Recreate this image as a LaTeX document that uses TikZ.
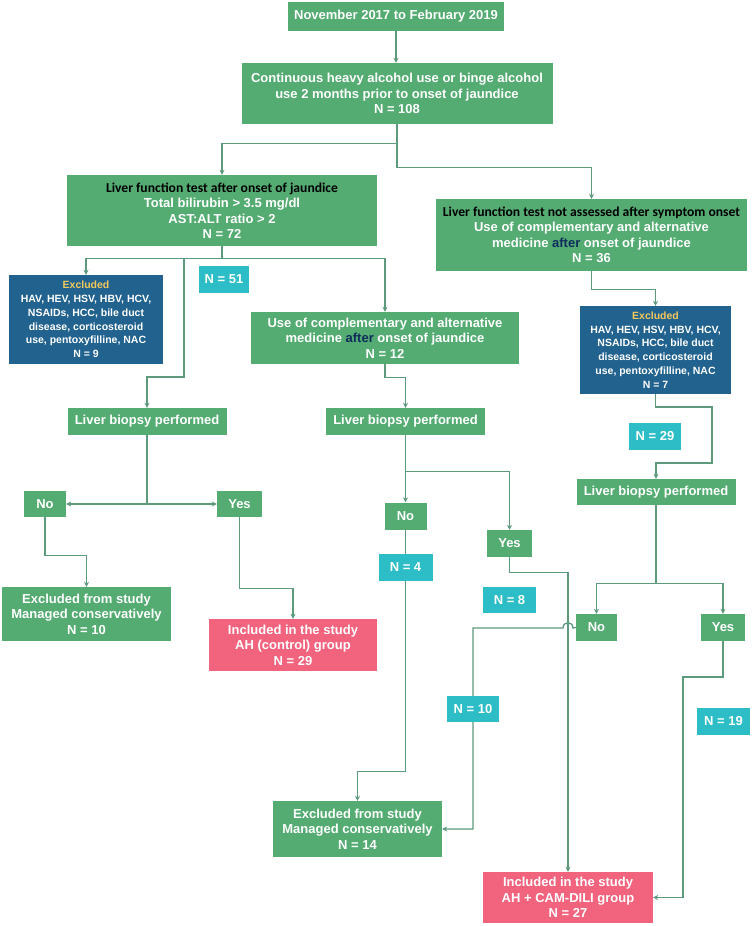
\documentclass[tikz,border=0pt]{standalone}
\usepackage{fontspec}
\setmainfont{Liberation Sans}
\newfontfamily\calib{Carlito}
\usetikzlibrary{arrows.meta}
\definecolor{grn}{HTML}{54AC72}
\definecolor{blu}{HTML}{21628F}
\definecolor{pnk}{HTML}{F2637E}
\definecolor{cyn}{HTML}{2DBDC6}
\definecolor{lin}{HTML}{5C9A7C}
\definecolor{gold}{HTML}{F5C85A}
\definecolor{navy}{HTML}{0E2C5C}
\tikzset{
  basebox/.style={inner sep=0pt, align=center, text=white, font=\fontsize{13}{15.5}\selectfont\bfseries},
  gbox/.style={basebox, fill=grn},
  bbox/.style={basebox, fill=blu, font=\fontsize{10.5}{13.8}\selectfont\bfseries},
  pbox/.style={basebox, fill=pnk},
  nlab/.style={basebox, fill=cyn},
  conn/.style={draw=lin, line width=1.3pt, -{Stealth[length=5pt,width=5pt]}},
  plain/.style={draw=lin, line width=1.3pt},
}
\newcommand{\hdr}[1]{{\calib\fontsize{13.6}{15.5}\selectfont\color{black}#1}}
\newcommand{\aft}{{\color{navy}after}}
\newcommand{\excl}{{\color{gold}Excluded}}
\begin{document}
\begin{tikzpicture}[x=1pt,y=-1pt]
\useasboundingbox (0,0) rectangle (752,926);
% nodes
\node[gbox, minimum width=216pt, minimum height=29pt] (n1) at (396,16.5) {November 2017 to February 2019};
\node[gbox, minimum width=311pt, minimum height=61pt] (n2) at (397,93.5) {Continuous heavy alcohol use or binge alcohol\\use 2 months prior to onset of jaundice\\N = 108};
\node[gbox, minimum width=310pt, minimum height=71pt] (n3) at (222,210.5) {\hdr{Liver function test after onset of jaundice}\\Total bilirubin > 3.5 mg/dl\\AST:ALT ratio > 2\\N = 72};
\node[gbox, minimum width=311pt, minimum height=72pt] (n4) at (591.5,235) {\hdr{Liver function test not assessed after symptom onset}\\Use of complementary and alternative\\medicine \aft{} onset of jaundice\\N = 36};
\node[bbox, minimum width=154pt, minimum height=89pt] (ex1) at (86,319.5) {\excl\\HAV, HEV, HSV, HBV, HCV,\\NSAIDs, HCC, bile duct\\disease, corticosteroid\\use, pentoxyfilline, NAC\\N = 9};
\node[gbox, minimum width=268pt, minimum height=52pt] (n5) at (385,338) {Use of complementary and alternative\\medicine \aft{} onset of jaundice\\N = 12};
\node[bbox, minimum width=151pt, minimum height=88pt] (exr) at (655.5,350) {\excl\\HAV, HEV, HSV, HBV, HCV,\\NSAIDs, HCC, bile duct\\disease, corticosteroid\\use, pentoxyfilline, NAC\\N = 7};
\node[gbox, minimum width=159pt, minimum height=27pt] (lb1) at (147,421.5) {Liver biopsy performed};
\node[gbox, minimum width=159pt, minimum height=27pt] (lb2) at (405.5,421.5) {Liver biopsy performed};
\node[gbox, minimum width=159pt, minimum height=26pt] (lb3) at (656,492) {Liver biopsy performed};
\node[gbox, minimum width=42pt, minimum height=26pt] (no1) at (45,504) {No};
\node[gbox, minimum width=45pt, minimum height=26pt] (yes1) at (239.5,504) {Yes};
\node[gbox, minimum width=42pt, minimum height=27pt] (no2) at (405.5,516) {No};
\node[gbox, minimum width=45pt, minimum height=27pt] (yes2) at (509.5,543.5) {Yes};
\node[gbox, minimum width=41pt, minimum height=27pt] (no3) at (596.5,627.5) {No};
\node[gbox, minimum width=44pt, minimum height=27pt] (yes3) at (723,627.5) {Yes};
\node[gbox, minimum width=169pt, minimum height=54pt] (ex10) at (86.5,614) {Excluded from study\\Managed conservatively\\N = 10};
\node[pbox, minimum width=168pt, minimum height=52pt] (ah) at (293,645) {Included in the study\\AH (control) group\\N = 29};
\node[gbox, minimum width=169pt, minimum height=56pt] (ex14) at (357.5,829) {Excluded from study\\Managed conservatively\\N = 14};
\node[pbox, minimum width=170pt, minimum height=51pt] (cam) at (568,897.5) {Included in the study\\AH + CAM-DILI group\\N = 27};
% coordinates
\coordinate (t1) at (184,258);
\coordinate (b1) at (184,377);
\coordinate (r1) at (712,407);
\coordinate (r2) at (712,463);
\coordinate (y1) at (683,677);
\coordinate (h1) at (573,628);
\coordinate (h2) at (563,628);
\coordinate (h3) at (473,628);
% connectors
\draw[conn] (n1.south) -- (n1.south |- n2.north);
\draw[conn] (n2.south) -- ++(0,19) -| (n3.north);
\draw[conn] (n2.south) -- ++(0,43) -| (n4.north);
\draw[conn] (n3.south) -- ++(0,12) -| (ex1.north);
\draw[conn] (n3.south) -- ++(0,12) -| (n5.north);
\draw[conn] (t1) -- (b1) -| (lb1.north);
\draw[conn] (n5.south) -- ++(0,13) -| (lb2.north);
\draw[conn] (lb2.south) -- (no2.north);
\draw[conn] (lb2.south) -- ++(0,36) -| (yes2.north);
\draw[conn] (no2.south) -- ++(0,242) -| (ex14.north);
\draw[conn] (yes2.south) -- ++(0,15) -| (cam.north);
\draw[conn] (no3.west) -- (h1) .. controls (573,621) and (563,621) .. (h2) -- (h3) |- (ex14.east);
\draw[conn] (n4.south) -- ++(0,18) -| (exr.north);
\draw[conn] (exr.south) |- (r1) -- (r2) -| (lb3.north);
\draw[conn] (lb3.south) -- ++(0,78) -| (no3.north);
\draw[conn] (lb3.south) -- ++(0,78) -| (yes3.north);
\draw[conn] (yes3.south) |- (y1) |- (cam.east);
\draw[conn] (lb1.south) |- (no1.east);
\draw[conn] (lb1.south) |- (yes1.west);
\draw[conn] (no1.south) -- ++(0,38) -| (ex10.north);
\draw[conn] (yes1.south) -- ++(0,71) -| (ah.north);
% N labels
\node[nlab, minimum width=50pt, minimum height=27pt] (l51) at (224,279.5) {N = 51};
\node[nlab, minimum width=54pt, minimum height=27pt] (l4) at (405.5,567.5) {N = 4};
\node[nlab, minimum width=53pt, minimum height=26pt] (l8) at (509.5,600) {N = 8};
\node[nlab, minimum width=52pt, minimum height=26pt] (l10) at (473,709) {N = 10};
\node[nlab, minimum width=52pt, minimum height=27pt] (l29) at (655,436.5) {N = 29};
\node[nlab, minimum width=53pt, minimum height=27pt] (l19) at (723.5,721.5) {N = 19};
\end{tikzpicture}
\end{document}
